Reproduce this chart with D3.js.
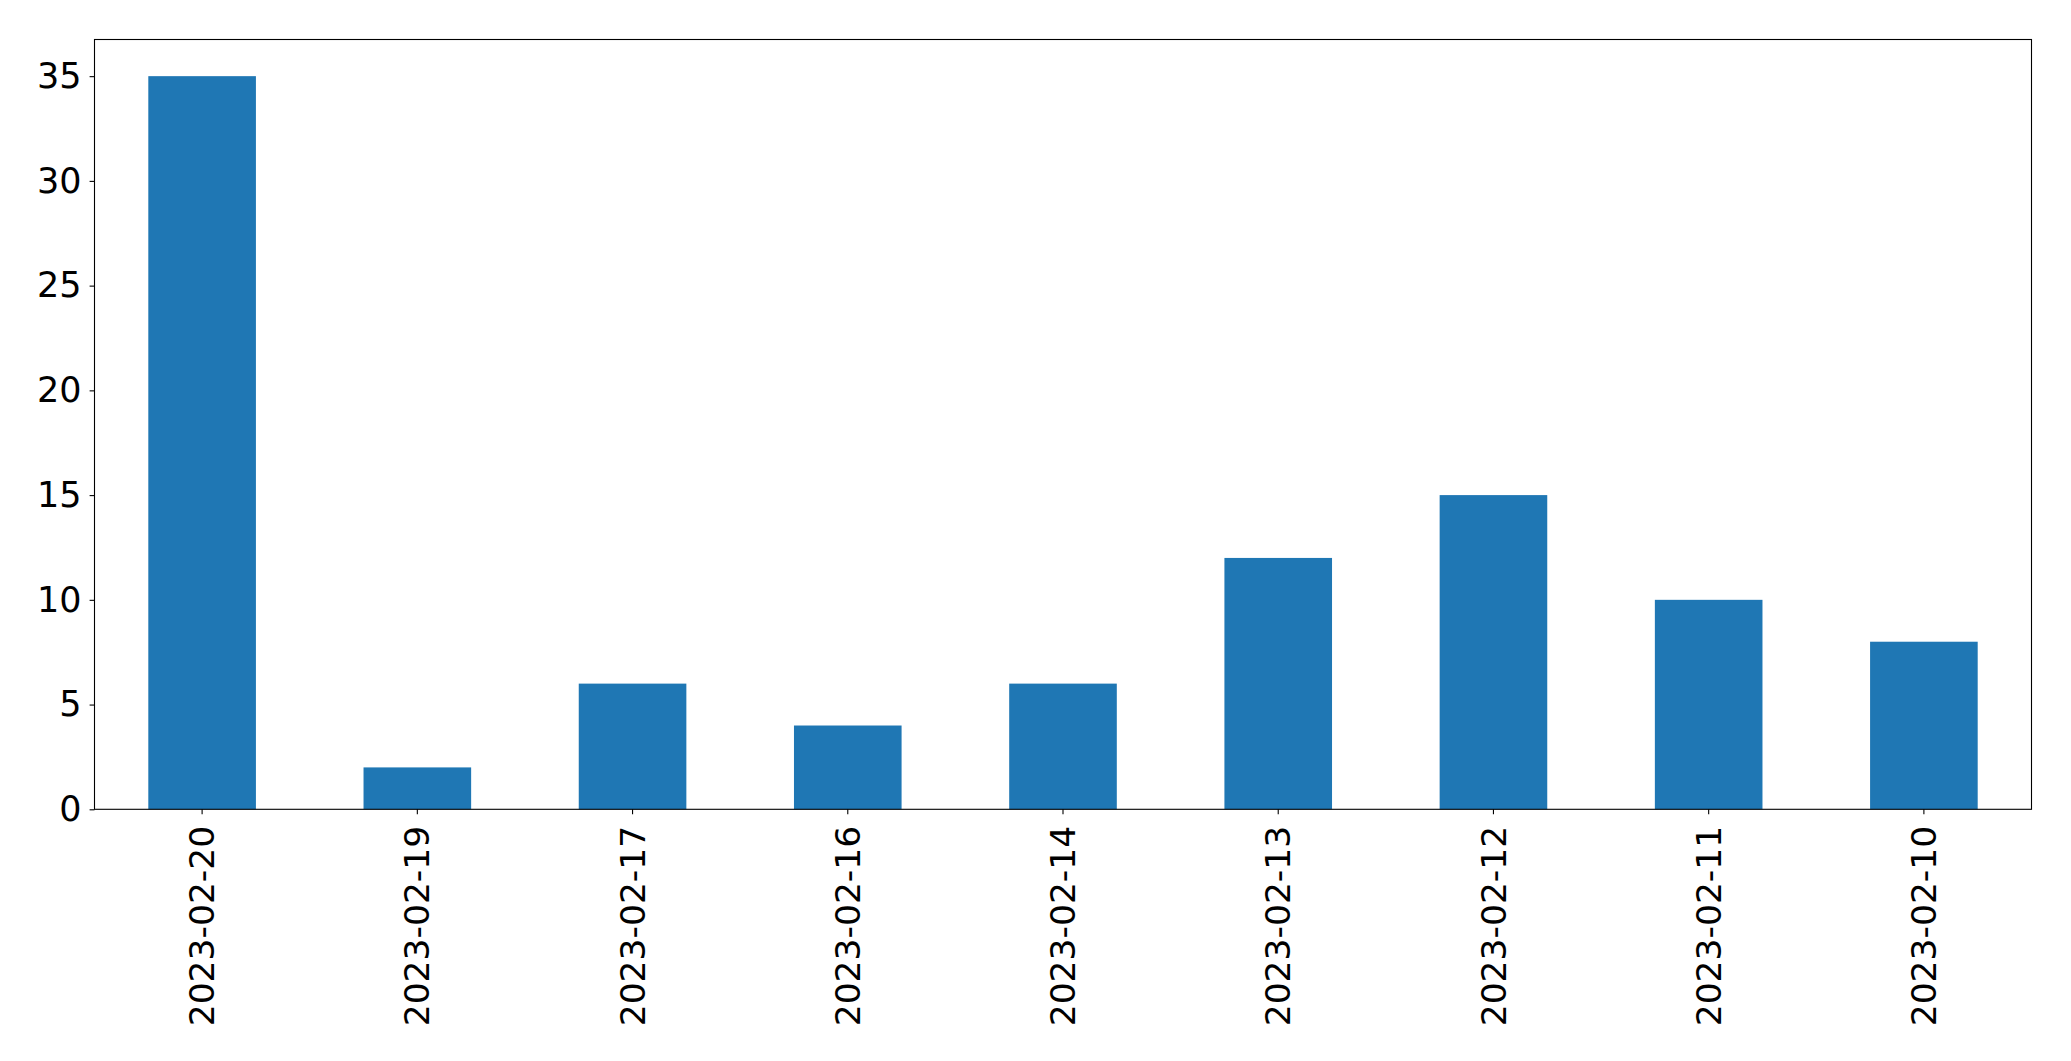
<!DOCTYPE html>
<html>
<head>
<meta charset="utf-8">
<script src="https://cdn.jsdelivr.net/npm/d3@7"></script>
<style>
  html, body { margin: 0; padding: 0; background: #fff; }
  svg { display: block; }
  text { font-family: "DejaVu Sans", sans-serif; fill: #000; }
</style>
</head>
<body>
<script>
const categories = ["2023-02-20","2023-02-19","2023-02-17","2023-02-16","2023-02-14","2023-02-13","2023-02-12","2023-02-11","2023-02-10"];
const values = [35, 2, 6, 4, 6, 12, 15, 10, 8];
const yTicks = [0, 5, 10, 15, 20, 25, 30, 35];

const W = 2071, H = 1061;
const m = { left: 94.5, right: W - 2031.5, top: 39.5, bottom: H - 809.3 };
const fontSize = 34.5;

const svg = d3.select("body").append("svg").attr("width", W).attr("height", H);

const x = d3.scaleBand().domain(categories).range([m.left, W - m.right]).paddingInner(0.5).paddingOuter(0.25);
const y = d3.scaleLinear().domain([0, 35 * 1.05]).range([H - m.bottom, m.top]);

svg.append("g").selectAll("rect").data(values).join("rect")
  .attr("x", (d, i) => x(categories[i]))
  .attr("width", x.bandwidth())
  .attr("y", d => y(d))
  .attr("height", d => y(0) - y(d))
  .attr("fill", "#1f77b4");

const yAxis = svg.append("g").attr("transform", `translate(${m.left},0)`)
  .call(d3.axisLeft(y).tickValues(yTicks).tickSize(4.9).tickPadding(8).tickFormat(d3.format("d")));
yAxis.select(".domain").remove();
yAxis.selectAll("line").attr("stroke", "#000").attr("stroke-width", 1.1);
yAxis.selectAll("text").attr("font-size", 35).attr("font-family", "DejaVu Sans").attr("fill", "#000");

const xAxis = svg.append("g").attr("transform", `translate(0,${H - m.bottom})`)
  .call(d3.axisBottom(x).tickSize(4.9).tickPadding(0));
xAxis.select(".domain").remove();
xAxis.selectAll("line").attr("stroke", "#000").attr("stroke-width", 1.1);
xAxis.selectAll("text")
  .attr("font-size", fontSize).attr("font-family", "DejaVu Sans").attr("fill", "#000")
  .attr("transform", "rotate(-90)")
  .attr("text-anchor", "end")
  .attr("x", -16.5)
  .attr("y", 0)
  .attr("dy", "0.35em");

svg.append("rect")
  .attr("x", m.left).attr("y", m.top)
  .attr("width", W - m.right - m.left).attr("height", H - m.bottom - m.top)
  .attr("fill", "none").attr("stroke", "#000").attr("stroke-width", 1.1);
</script>
</body>
</html>
